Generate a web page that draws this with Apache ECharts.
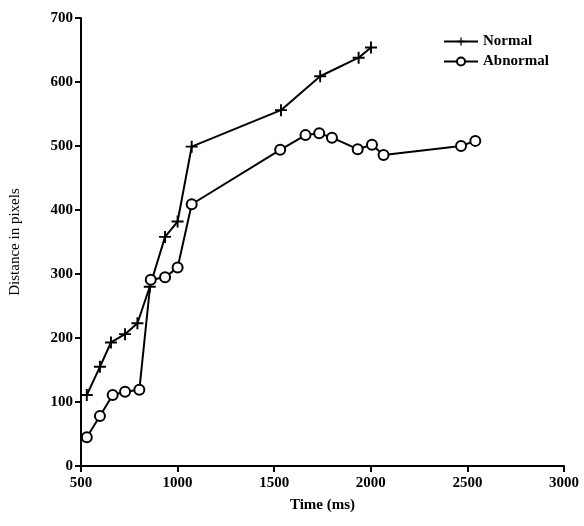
<!DOCTYPE html>
<html>
<head>
<meta charset="utf-8">
<script src="https://cdn.jsdelivr.net/npm/echarts@6/dist/echarts.min.js"></script>
<style>
  html, body { margin: 0; padding: 0; background: #fff; }
  #chart { width: 584px; height: 526px; }
</style>
</head>
<body>
<div id="chart"></div>
<script>
const normalTime = [530, 598, 655, 728, 792, 856, 935, 1000, 1073, 1535, 1738, 1937, 2001]
const normalDist = [111, 155, 193, 206, 223, 280, 358, 382, 499, 556, 609, 638, 654]
const abnormalTime = [530, 598, 664, 728, 802, 861, 935, 1000, 1073, 1531, 1662, 1733, 1799, 1932, 2006, 2066, 2467, 2541]
const abnormalDist = [45, 78, 111, 116, 119, 291, 295, 310, 409, 494, 517, 520, 513, 495, 502, 486, 500, 508]

const font = 'Liberation Serif'
const plus = 'path://M4.2,0H5.8V10H4.2ZM0,4.2H10V5.8H0Z'

const pairs = (xs, ys) => xs.map((x, i) => [x, ys[i]])

const myChart = echarts.init(document.querySelector('#chart'))
myChart.setOption({
    animation: false,
    grid: { left: 81, right: 20, top: 18, bottom: 60 },
    legend: {
        left: 438,
        top: 29,
        orient: 'vertical',
        itemWidth: 34,
        itemHeight: 10,
        itemGap: 5,
        textStyle: { fontFamily: font, fontWeight: 'bold', fontSize: 15, color: '#000' },
        data: ['Normal', 'Abnormal']
    },
    xAxis: {
        type: 'value',
        min: 500,
        max: 3000,
        interval: 500,
        name: 'Time (ms)',
        nameLocation: 'middle',
        nameGap: 32,
        nameTextStyle: { fontFamily: font, fontWeight: 'bold', fontSize: 15, color: '#000' },
        axisLine: { show: true, lineStyle: { color: '#000', width: 2 } },
        axisTick: { show: true, length: 6, lineStyle: { color: '#000', width: 2 } },
        axisLabel: { fontFamily: font, fontWeight: 'bold', fontSize: 15, color: '#000', margin: 10, formatter: v => String(v) },
        splitLine: { show: false }
    },
    yAxis: {
        type: 'value',
        min: 0,
        max: 700,
        interval: 100,
        name: 'Distance in pixels',
        nameLocation: 'middle',
        nameGap: 58,
        nameTextStyle: { fontFamily: font, fontSize: 15, color: '#000' },
        axisLine: { show: true, lineStyle: { color: '#000', width: 2 } },
        axisTick: { show: true, length: 6, lineStyle: { color: '#000', width: 2 } },
        axisLabel: { fontFamily: font, fontWeight: 'bold', fontSize: 15, color: '#000', margin: 8 },
        splitLine: { show: false }
    },
    series: [
        {
            name: 'Normal',
            type: 'line',
            data: pairs(normalTime, normalDist),
            symbol: plus,
            symbolSize: 12,
            itemStyle: { color: '#000' },
            lineStyle: { color: '#000', width: 2 }
        },
        {
            name: 'Abnormal',
            type: 'line',
            data: pairs(abnormalTime, abnormalDist),
            symbol: 'circle',
            symbolSize: 10,
            itemStyle: { color: '#fff', borderColor: '#000', borderWidth: 2 },
            lineStyle: { color: '#000', width: 2 }
        }
    ]
})
</script>
</body>
</html>
